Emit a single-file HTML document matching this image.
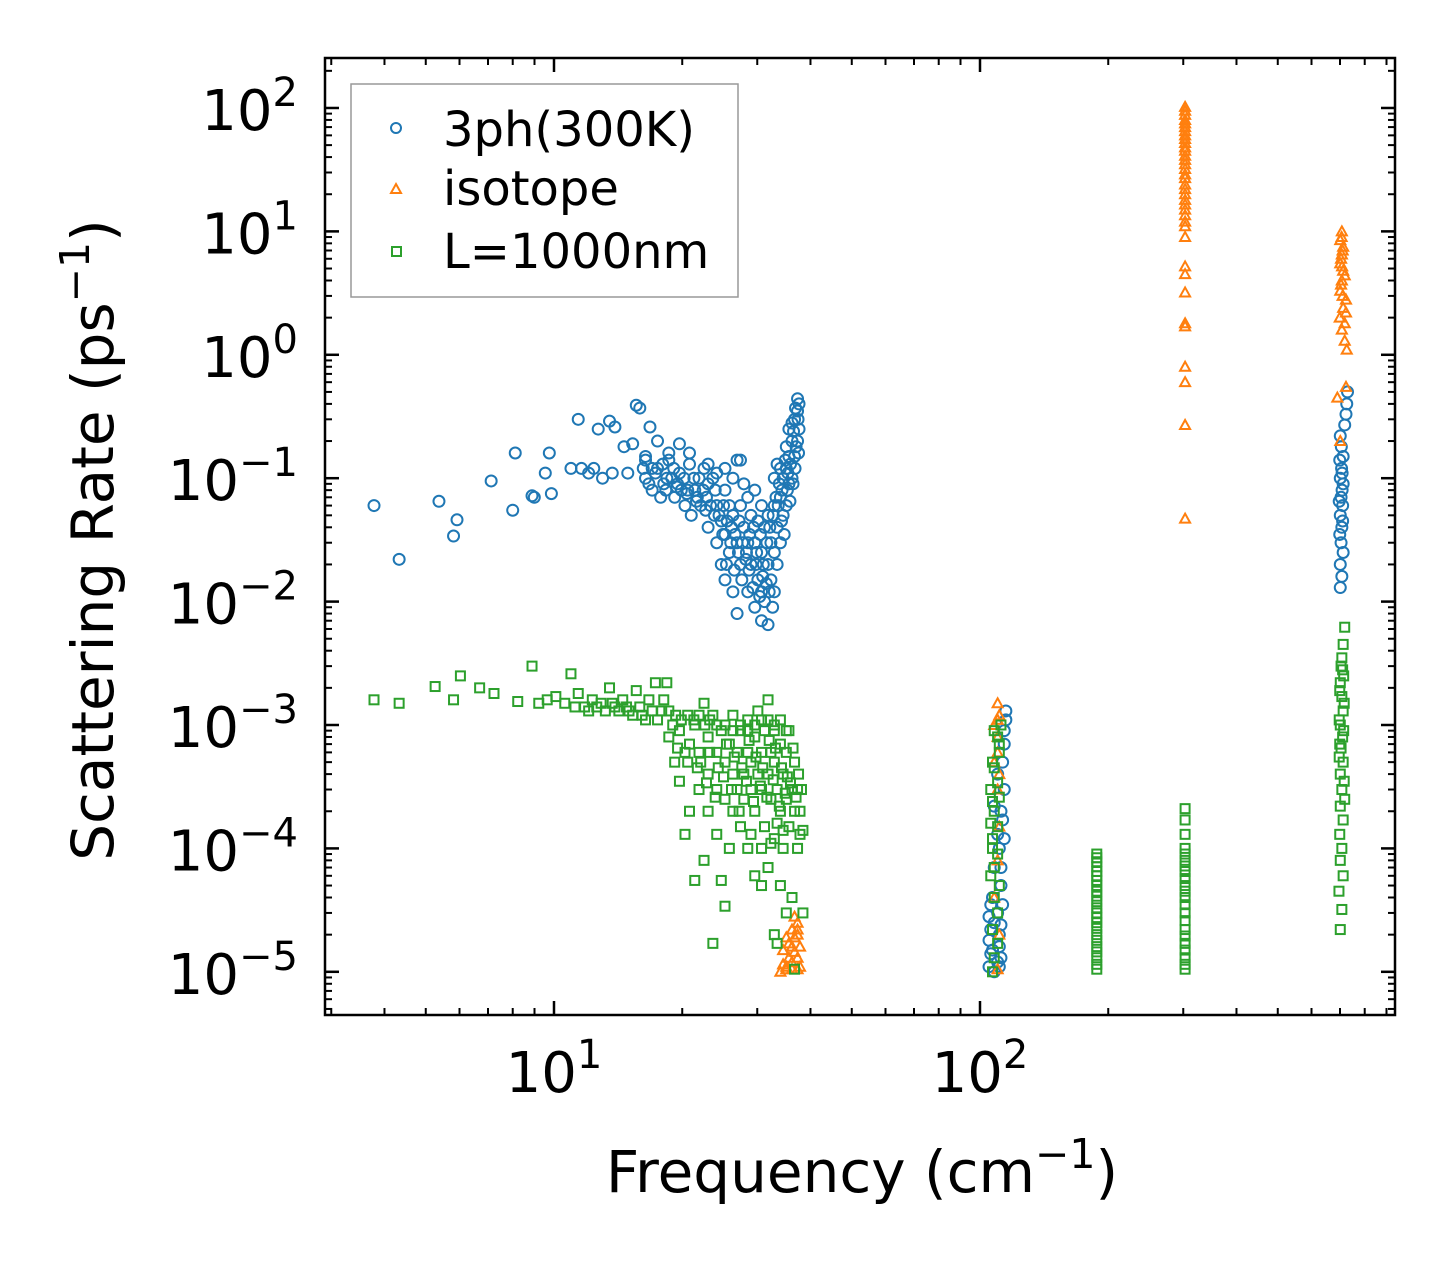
<!DOCTYPE html>
<html><head><meta charset="utf-8"><style>
html,body{margin:0;padding:0;background:#fff;}
svg{display:block;font-family:"DejaVu Sans","Liberation Sans",sans-serif;}
</style></head><body>
<svg id="chart" width="1455" height="1265" viewBox="0 0 1455 1265" xmlns="http://www.w3.org/2000/svg">
<rect width="1455" height="1265" fill="#fff"/>
<g id="marks"></g>
<g id="axes"></g>
<text x="862" y="1192" font-size="58" text-anchor="middle">Frequency (cm<tspan dy="-24" font-size="41">−1</tspan><tspan dy="24">)</tspan></text>
<text transform="translate(113,540) rotate(-90)" font-size="58" text-anchor="middle">Scattering Rate (ps<tspan dy="-24" font-size="41">−1</tspan><tspan dy="24">)</tspan></text>
<g>
<rect x="351" y="84" width="387" height="213" fill="#fff" stroke="#999" stroke-width="1.5"/>
<circle cx="396" cy="128" r="5" fill="none" stroke="#1f77b4" stroke-width="2"/>
<text x="443" y="146" font-size="48">3ph(300K)</text>
<path d="M396,184 L401,193 L391,193 Z" fill="none" stroke="#ff7f0e" stroke-width="2"/>
<text x="443" y="205" font-size="48">isotope</text>
<rect x="392" y="247" width="9" height="9" fill="none" stroke="#2ca02c" stroke-width="2"/>
<text x="443" y="268" font-size="48">L=1000nm</text>
</g>
</svg>
<script>
const xTickLabels = ["1","2"];
const yTickLabels = ["2","1","0","−1","−2","−3","−4","−5"];
const blue3ph = [[3.78,0.06],[4.33,0.022],[5.37,0.065],[5.92,0.046],[5.81,0.034],[7.12,0.095],[8.0,0.055],[8.11,0.16],[8.88,0.072],[8.99,0.07],[9.54,0.11],[9.86,0.075],[9.75,0.16],[10.96,0.12],[11.4,0.3],[11.6,0.12],[12.06,0.11],[12.4,0.12],[12.7,0.25],[13.0,0.1],[13.5,0.29],[13.7,0.11],[13.9,0.26],[14.6,0.18],[14.9,0.11],[15.3,0.19],[15.6,0.39],[15.9,0.37],[16.2,0.12],[16.4,0.15],[16.8,0.26],[17.0,0.12],[16.4,0.1],[17.0,0.08],[17.5,0.12],[18.1,0.09],[18.6,0.14],[19.2,0.07],[19.7,0.11],[20.3,0.06],[20.8,0.13],[21.4,0.08],[21.9,0.1],[17.5,0.2],[18.6,0.16],[19.7,0.19],[16.4,0.14],[17.8,0.07],[18.9,0.1],[19.9,0.08],[21.0,0.05],[22.1,0.06],[20.8,0.16],[22.5,0.12],[23.6,0.1],[25.2,0.12],[26.9,0.14],[23.0,0.04],[23.0,0.09],[23.0,0.13],[24.1,0.03],[24.1,0.06],[24.1,0.11],[24.7,0.02],[24.7,0.045],[25.2,0.015],[25.2,0.035],[25.2,0.08],[25.8,0.025],[25.8,0.06],[26.3,0.012],[26.3,0.05],[26.3,0.1],[26.9,0.008],[26.9,0.03],[27.4,0.02],[27.4,0.06],[27.4,0.14],[27.9,0.04],[27.9,0.09],[28.5,0.012],[28.5,0.03],[28.5,0.07],[29.0,0.02],[29.0,0.05],[29.6,0.009],[29.6,0.03],[29.6,0.08],[30.1,0.015],[30.1,0.045],[30.7,0.007],[30.7,0.012],[30.7,0.025],[30.7,0.06],[31.2,0.01],[31.2,0.04],[31.8,0.0065],[31.8,0.02],[31.8,0.05],[32.3,0.015],[32.3,0.03],[32.9,0.012],[32.9,0.025],[32.9,0.06],[32.9,0.1],[33.4,0.02],[33.4,0.04],[33.4,0.13],[34.0,0.03],[34.0,0.07],[34.0,0.12],[34.5,0.05],[34.5,0.1],[35.1,0.06],[35.1,0.12],[35.1,0.18],[35.6,0.09],[35.6,0.15],[35.6,0.25],[36.2,0.1],[36.2,0.2],[36.2,0.28],[36.7,0.15],[36.7,0.3],[37.3,0.2],[37.3,0.35],[37.3,0.44],[37.6,0.25],[37.6,0.4],
[16.7,0.09],[17.3,0.11],[18.0,0.13],[18.4,0.1],[19.1,0.12],[19.5,0.09],[20.2,0.1],[20.6,0.08],[21.3,0.1],[21.7,0.07],[22.4,0.08],[22.8,0.07],[23.3,0.06],[23.9,0.08],[24.4,0.05],[25.0,0.06],[25.5,0.045],[26.1,0.04],[26.6,0.035],[27.2,0.045],[27.7,0.03],[28.3,0.025],[28.8,0.035],[29.4,0.04],[29.9,0.025],[30.5,0.035],[31.0,0.02],[31.6,0.03],[32.1,0.04],[32.7,0.05],[33.2,0.07],[33.8,0.09],[34.3,0.08],[34.9,0.14],[35.4,0.11],[35.9,0.13],[36.5,0.24],[37.0,0.18],[37.4,0.3],[36.9,0.37],[25.4,0.02],[26.5,0.018],[27.6,0.015],[28.7,0.018],[29.8,0.02],[30.9,0.016],[32.0,0.012],[32.6,0.009],[31.5,0.014],[30.4,0.011],[29.3,0.013],[28.2,0.022],[27.1,0.025],[26.0,0.03],[24.9,0.035],[23.8,0.05],[22.7,0.055],[21.6,0.065],[20.5,0.075],[19.4,0.085],[18.3,0.08],[33.6,0.06],[34.2,0.045],[34.7,0.035],[35.3,0.08],[35.8,0.065],[36.4,0.09],[36.8,0.12],[37.5,0.16],
[108,1e-5],[110,1.2e-5],[107,1.5e-5],[111,2e-5],[108,2.5e-5],[110,3e-5],[107,4e-5],[112,5e-5],[108,7e-5],[111,1e-4],[110,1.3e-4],[113,1.7e-4],[108,2.2e-4],[114,3e-4],[110,4e-4],[113,5e-4],[114,7e-4],[114,9e-4],[115,1.1e-3],[115,1.3e-3],[105,1.1e-5],[106,1.4e-5],[105,1.8e-5],[106,2.2e-5],[105,2.8e-5],[106,3.5e-5],[111,1.1e-5],[112,1.3e-5],[111,1.6e-5],[112,2.4e-5],[113,3.5e-5],[112,7e-5],[114,1.2e-4],[112,2e-4],
[701,0.013],[707,0.016],[701,0.02],[712,0.025],[704,0.03],[707,0.04],[701,0.05],[710,0.06],[704,0.07],[708,0.08],[701,0.1],[706,0.12],[712,0.15],[705,0.18],[701,0.22],[718,0.27],[723,0.33],[726,0.4],[729,0.5],[699,0.035],[710,0.045],[697,0.065],[712,0.09],[699,0.14],[708,0.11]];
const isotope = [[303,0.047],[303,0.27],[303,0.6],[303,0.8],[303,1.7],[303,1.8],[303,3.2],[303,4.5],[303,5.2],[303,9],[303,12],[303,15],[303,18],[303,22],[303,27],[303,32],[303,38],[303,45],[303,52],[303,60],[303,70],[303,80],[303,95],[303,11],[303,13.5],[303,16.5],[303,20],[303,24],[303,29],[303,35],[303,41],[303,48],[303,56],[303,65],[303,75],[303,88],[303,102],
[701,0.2],[690,0.45],[723,0.55],[726,1.1],[718,1.3],[707,1.6],[699,2],[712,2.4],[723,2.8],[701,3.3],[707,4],[712,4.8],[701,5.5],[707,6.5],[712,7.5],[701,8.5],[707,10],[718,1.8],[723,2.2],[710,3],[704,3.7],[718,4.4],[708,5.2],[704,6],[710,7],[706,9],
[34.0,1e-5],[35.1,1.1e-5],[36.2,1.2e-5],[37.3,1.3e-5],[34.5,1.5e-5],[35.6,1.7e-5],[36.7,1.9e-5],[36.2,2.2e-5],[37.3,2.5e-5],[36.7,2.8e-5],[35.1,1.05e-5],[37.3,1.05e-5],[34.5,1.15e-5],[35.6,1.3e-5],[36.7,1.45e-5],[37.8,1.6e-5],[35.1,1.9e-5],[37.3,2e-5],[36.2,1.6e-5],[37.8,1.1e-5],[36.2,1.05e-5],[37.3,2.2e-5],
[110,1.05e-5],[111,2e-5],[108,4e-5],[110,8e-5],[111,1.5e-4],[110,3e-4],[108,5e-4],[110,8e-4],[110,1.1e-3],[110,1.5e-3],[111,1.2e-3],[108,1e-3],[110,6e-4],[111,4e-4]];
const l1000 = [[3.78,1.6e-3],[4.33,1.5e-3],[5.26,2.05e-3],[5.81,1.6e-3],[6.03,2.5e-3],[6.69,2e-3],[7.23,1.8e-3],[8.22,1.55e-3],[8.88,3e-3],[9.21,1.5e-3],[9.64,1.6e-3],[10.1,1.7e-3],[10.6,1.5e-3],[10.96,2.6e-3],[11.4,1.8e-3],[11.8,1.4e-3],[12.3,1.6e-3],[12.9,1.5e-3],[13.5,2e-3],[13.9,1.4e-3],[14.5,1.6e-3],[15.0,1.3e-3],[15.6,1.9e-3],[16.1,1.2e-3],[16.7,1.6e-3],[17.3,2.2e-3],[17.9,1.3e-3],[18.4,2.2e-3],[19.0,1e-3],
[11.2,1.4e-3],[12.06,1.3e-3],[12.6,1.4e-3],[13.2,1.3e-3],[13.7,1.5e-3],[14.2,1.3e-3],[14.8,1.4e-3],[15.3,1.2e-3],[15.9,1.4e-3],[16.4,1.1e-3],[17.0,1.3e-3],[17.5,1.1e-3],[18.1,1.6e-3],[18.6,1.3e-3],[19.3,1.2e-3],[19.9,1.1e-3],[20.6,1.2e-3],[21.3,1.1e-3],[21.9,1.2e-3],[22.6,1e-3],[23.2,1.1e-3],[24.1,1e-3],[25.2,1e-3],[26.3,9e-4],[27.4,1e-3],[28.5,9e-4],[29.6,1e-3],[30.7,1.1e-3],[31.8,1.1e-3],[32.9,9e-4],[34.0,1.1e-3],[35.1,9e-4],
[18.6,8e-4],[19.2,5e-4],[19.7,3.5e-4],[19.7,9e-4],[20.3,6e-4],[20.3,1.3e-4],[20.8,2e-4],[20.8,7e-4],[21.4,5.5e-5],[21.4,1e-3],[21.9,3e-4],[21.9,6e-4],[22.5,8e-5],[22.5,1.5e-3],[23.0,2e-4],[23.0,4e-4],[23.0,8e-4],[23.6,1.7e-5],[23.6,1.2e-3],[24.1,1.3e-4],[24.1,3e-4],[24.1,6e-4],[24.7,5.5e-5],[24.7,9e-4],[25.2,3.4e-5],[25.2,2.5e-4],[25.2,5e-4],[25.8,1e-4],[25.8,7e-4],[26.3,2e-4],[26.3,4e-4],[26.3,1.2e-3],[26.9,3e-4],[26.9,6e-4],[27.4,1.5e-4],[27.4,9e-4],[27.9,4e-4],[27.9,2.5e-4],[28.5,1e-4],[28.5,6e-4],[28.5,1.1e-3],[29.0,3e-4],[29.0,5e-4],[29.6,6e-5],[29.6,2e-4],[29.6,8e-4],[30.1,4e-4],[30.1,1.3e-3],[30.7,5e-5],[30.7,3e-4],[30.7,6e-4],[31.2,1.5e-4],[31.2,9e-4],[31.8,7e-5],[31.8,4e-4],[31.8,1.6e-3],[32.3,2.5e-4],[32.3,6e-4],[32.9,2e-5],[32.9,1.2e-4],[32.9,5e-4],[32.9,1e-3],[33.4,1.7e-5],[33.4,3e-4],[34.0,5e-5],[34.0,2e-4],[34.0,7e-4],[34.5,1e-4],[34.5,4e-4],[35.1,3e-5],[35.1,2.5e-4],[35.1,6e-4],[35.6,1.5e-4],[35.6,9e-4],[36.2,4e-5],[36.2,3e-4],[36.7,2e-4],[36.7,5e-4],[37.3,1e-4],[37.3,3e-4],[37.8,1.3e-4],[37.8,2e-4],[38.4,3e-5],[38.4,1.4e-4],[36.7,1.05e-5],
[22.1,5e-4],[23.2,6e-4],[24.3,4.5e-4],[25.4,7e-4],[26.5,5.5e-4],[27.6,4.5e-4],[28.7,7.5e-4],[29.8,5.5e-4],[30.9,4.5e-4],[32.0,7.5e-4],[33.1,6.5e-4],[34.2,4.5e-4],[35.3,3.8e-4],[36.4,6.5e-4],[37.5,4e-4],[38.1,3e-4],[37.0,2.6e-4],[35.9,3.4e-4],[34.9,2.8e-4],[33.8,2.2e-4],[32.7,3.6e-4],[31.6,2.6e-4],[30.5,3.2e-4],[29.4,2.4e-4],[28.3,3.5e-4],[27.2,2e-4],[26.1,3e-4],[25.0,3.8e-4],[23.9,2.6e-4],[22.8,3.4e-4],[21.7,4.5e-4],[20.6,5e-4],[19.5,6.5e-4],[33.4,1.6e-4],[34.5,1.4e-4],[32.3,1.1e-4],[30.7,1e-4],[29.0,1.3e-4],
[107,1e-5],[108,1.3e-5],[110,1.7e-5],[107,2.2e-5],[110,3e-5],[108,4e-5],[111,5e-5],[108,7e-5],[110,9e-5],[107,1.2e-4],[110,1.5e-4],[108,2e-4],[111,2.6e-4],[110,3.4e-4],[108,4.5e-4],[111,6e-4],[110,8e-4],[112,1e-3],[106,6e-5],[107,1e-4],[106,1.6e-4],[107,2.4e-4],[106,3e-4],[107,5e-4],[108,9e-4],[111,7e-4],
[188,1.05e-5],[188,1.3e-5],[188,1.6e-5],[188,2e-5],[188,2.5e-5],[188,3e-5],[188,3.7e-5],[188,4.5e-5],[188,5.5e-5],[188,6.5e-5],[188,7.8e-5],[188,9e-5],[188,1.15e-5],[188,1.45e-5],[188,1.8e-5],[188,2.25e-5],[188,2.75e-5],[188,3.3e-5],[188,4.1e-5],[188,5e-5],[188,6e-5],[188,7.1e-5],[188,8.4e-5],
[303,1.05e-5],[303,1.3e-5],[303,1.7e-5],[303,2.2e-5],[303,3e-5],[303,4e-5],[303,5e-5],[303,6.5e-5],[303,8e-5],[303,1e-4],[303,1.3e-4],[303,1.7e-4],[303,2.1e-4],[303,1.15e-5],[303,1.5e-5],[303,1.95e-5],[303,2.6e-5],[303,3.5e-5],[303,4.5e-5],[303,5.7e-5],[303,7.2e-5],[303,9e-5],
[701,2.2e-5],[707,3.2e-5],[696,4.5e-5],[712,6e-5],[701,8e-5],[707,1e-4],[699,1.3e-4],[712,1.7e-4],[701,2.2e-4],[718,2.5e-4],[707,3e-4],[701,4e-4],[712,5e-4],[704,6.5e-4],[710,8e-4],[701,1e-3],[712,1.3e-3],[707,1.7e-3],[701,2.2e-3],[710,2.8e-3],[707,3.5e-3],[712,4.5e-3],[718,6.2e-3],[699,7e-4],[714,9e-4],[697,1.1e-3],[716,1.5e-3],[699,1.9e-3],[714,2.5e-3],[704,3e-3],[697,5.5e-4],[716,3.5e-4]];

const X0=325,X1=1395,Y0=58,Y1=1015;
const XT1=554, XDEC=426;
const LY0=2.405,LY1=-5.35;
function xs(v){return XT1+(Math.log10(v)-1)*XDEC;}
function ys(v){return Y0+(LY0-Math.log10(v))/(LY0-LY1)*(Y1-Y0);}
const NS="http://www.w3.org/2000/svg";
const marks=document.getElementById('marks');
const axes=document.getElementById('axes');
function mk(tag,attrs,parent){const e=document.createElementNS(NS,tag);for(const k in attrs)e.setAttribute(k,attrs[k]);parent.appendChild(e);return e;}
blue3ph.forEach(p=>{
  const c=mk('circle',{cx:xs(p[0]),cy:ys(p[1]),r:5.5,fill:'none',stroke:'#1f77b4','stroke-width':2},marks);
  
  
});
isotope.forEach(p=>{
  const x=xs(p[0]),y=ys(p[1]);
  const t=mk('path',{d:`M${x},${y-5} L${x+5},${y+4} L${x-5},${y+4} Z`,fill:'none',stroke:'#ff7f0e','stroke-width':2},marks);
  
  
});
l1000.forEach(p=>{
  const x=xs(p[0]),y=ys(p[1]);
  const r=mk('rect',{x:x-4.5,y:y-4.5,width:9,height:9,fill:'none',stroke:'#2ca02c','stroke-width':2},marks);
  
  
});
mk('rect',{x:X0,y:Y0,width:X1-X0,height:Y1-Y0,fill:'none',stroke:'#000','stroke-width':2.5},axes);
for(let d=0;d<=2;d++){for(let m=1;m<=9;m++){const v=m*Math.pow(10,d);const x=xs(v);if(x<X0+2||x>X1-2)continue;const L=m===1?14:7;
 mk('line',{x1:x,x2:x,y1:Y1,y2:Y1-L,stroke:'#000','stroke-width':m===1?2.5:2},axes);
 mk('line',{x1:x,x2:x,y1:Y0,y2:Y0+L,stroke:'#000','stroke-width':m===1?2.5:2},axes);}}
xTickLabels.forEach(e=>{const x=xs(Math.pow(10,+e));
 const t=mk('text',{x:x,y:1092,'font-size':56,'text-anchor':'middle'},axes);
 
 
 t.innerHTML=`10<tspan dy="-24" font-size="40">${e}</tspan>`;});
for(let d=-6;d<=2;d++){for(let m=1;m<=9;m++){const v=m*Math.pow(10,d);const y=ys(v);if(y<Y0+2||y>Y1-2)continue;const L=m===1?14:7;
 mk('line',{x1:X0,x2:X0+L,y1:y,y2:y,stroke:'#000','stroke-width':m===1?2.5:2},axes);
 mk('line',{x1:X1,x2:X1-L,y1:y,y2:y,stroke:'#000','stroke-width':m===1?2.5:2},axes);}}
yTickLabels.forEach(e=>{const y=ys(Math.pow(10,+e.replace('−','-')));
 const t=mk('text',{x:298,y:y+22,'font-size':56,'text-anchor':'end'},axes);
 
 
 t.innerHTML=`10<tspan dy="-24" font-size="40">${e}</tspan>`;});
</script>
</body></html>
